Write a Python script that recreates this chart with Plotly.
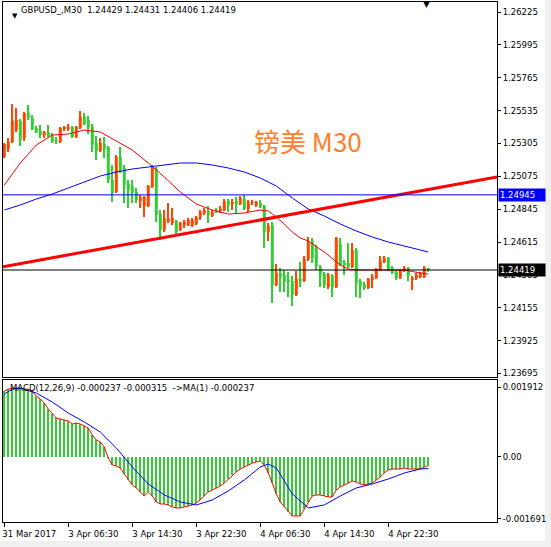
import plotly.graph_objects as go

# --- data (GBPUSD M30) ---
TICK_BARS = [0, 16, 32, 48, 64, 80, 96]
TICK_TEXT = ["31 Mar 2017", "3 Apr 06:30", "3 Apr 14:30", "3 Apr 22:30",
             "4 Apr 06:30", "4 Apr 14:30", "4 Apr 22:30"]

OPEN = [1.25210, 1.25266, 1.25315, 1.25399, 1.25462, 1.25343, 1.25518, 1.25483, 1.25413, 1.25392,
        1.25364, 1.25385, 1.25364, 1.25322, 1.25315, 1.25406, 1.25406, 1.25420, 1.25350, 1.25413,
        1.25490, 1.25469, 1.25420, 1.25308, 1.25252, 1.25301, 1.25280, 1.25049, 1.24965, 1.25210,
        1.25133, 1.25021, 1.25007, 1.24965, 1.24902, 1.24867, 1.24867, 1.25000, 1.25126, 1.24811,
        1.24699, 1.24762, 1.24748, 1.24762, 1.24699, 1.24734, 1.24734, 1.24727, 1.24741, 1.24790,
        1.24818, 1.24832, 1.24797, 1.24839, 1.24832, 1.24839, 1.24902, 1.24881, 1.24902, 1.24881,
        1.24916, 1.24846, 1.24888, 1.24874, 1.24888, 1.24867, 1.24685, 1.24734, 1.24314, 1.24398,
        1.24384, 1.24349, 1.24342, 1.24244, 1.24356, 1.24342, 1.24496, 1.24622, 1.24580, 1.24440,
        1.24391, 1.24300, 1.24377, 1.24300, 1.24601, 1.24468, 1.24468, 1.24440, 1.24559, 1.24342,
        1.24321, 1.24293, 1.24349, 1.24363, 1.24419, 1.24475, 1.24503, 1.24433, 1.24405, 1.24363,
        1.24412, 1.24433, 1.24349, 1.24363, 1.24370, 1.24370, 1.24429]
HIGH = [1.25308, 1.25343, 1.25581, 1.25553, 1.25476, 1.25525, 1.25574, 1.25504, 1.25427, 1.25434,
        1.25392, 1.25434, 1.25378, 1.25350, 1.25420, 1.25427, 1.25441, 1.25427, 1.25427, 1.25532,
        1.25518, 1.25497, 1.25441, 1.25357, 1.25343, 1.25350, 1.25287, 1.25154, 1.25224, 1.25280,
        1.25154, 1.25049, 1.25049, 1.24993, 1.24944, 1.24937, 1.25014, 1.25154, 1.25140, 1.24839,
        1.24839, 1.24888, 1.24853, 1.24769, 1.24755, 1.24769, 1.24783, 1.24783, 1.24797, 1.24839,
        1.24853, 1.24867, 1.24839, 1.24853, 1.24867, 1.24916, 1.24916, 1.24916, 1.24930, 1.24937,
        1.24944, 1.24909, 1.24909, 1.24902, 1.24909, 1.24874, 1.24748, 1.24755, 1.24461, 1.24433,
        1.24419, 1.24405, 1.24377, 1.24412, 1.24475, 1.24517, 1.24650, 1.24643, 1.24594, 1.24454,
        1.24405, 1.24398, 1.24391, 1.24650, 1.24643, 1.24489, 1.24608, 1.24608, 1.24573, 1.24356,
        1.24335, 1.24363, 1.24391, 1.24433, 1.24517, 1.24517, 1.24510, 1.24447, 1.24419, 1.24426,
        1.24447, 1.24440, 1.24377, 1.24398, 1.24405, 1.24447, 1.24431]
LOW = [1.25203, 1.25245, 1.25308, 1.25385, 1.25287, 1.25322, 1.25469, 1.25399, 1.25378, 1.25343,
       1.25343, 1.25350, 1.25308, 1.25301, 1.25308, 1.25392, 1.25392, 1.25343, 1.25343, 1.25406,
       1.25434, 1.25371, 1.25245, 1.25189, 1.25245, 1.25203, 1.25028, 1.24895, 1.24958, 1.25098,
       1.24888, 1.24853, 1.24888, 1.24888, 1.24853, 1.24790, 1.24860, 1.24993, 1.24755, 1.24629,
       1.24685, 1.24748, 1.24734, 1.24664, 1.24692, 1.24713, 1.24727, 1.24720, 1.24734, 1.24769,
       1.24804, 1.24748, 1.24790, 1.24818, 1.24818, 1.24832, 1.24825, 1.24839, 1.24818, 1.24874,
       1.24839, 1.24825, 1.24874, 1.24860, 1.24853, 1.24573, 1.24622, 1.24188, 1.24307, 1.24265,
       1.24265, 1.24230, 1.24167, 1.24237, 1.24300, 1.24335, 1.24482, 1.24468, 1.24419, 1.24300,
       1.24293, 1.24286, 1.24230, 1.24293, 1.24447, 1.24384, 1.24433, 1.24433, 1.24230, 1.24223,
       1.24279, 1.24286, 1.24293, 1.24356, 1.24412, 1.24468, 1.24412, 1.24391, 1.24349, 1.24356,
       1.24405, 1.24342, 1.24279, 1.24349, 1.24363, 1.24363, 1.24406]
CLOSE = [1.25301, 1.25315, 1.25462, 1.25469, 1.25329, 1.25518, 1.25483, 1.25406, 1.25385, 1.25364,
         1.25385, 1.25357, 1.25315, 1.25315, 1.25413, 1.25420, 1.25420, 1.25350, 1.25420, 1.25490,
         1.25441, 1.25420, 1.25294, 1.25252, 1.25308, 1.25266, 1.25049, 1.24958, 1.25210, 1.25119,
         1.25014, 1.24979, 1.24958, 1.24909, 1.24930, 1.24930, 1.25007, 1.25140, 1.24804, 1.24699,
         1.24783, 1.24776, 1.24783, 1.24685, 1.24748, 1.24755, 1.24769, 1.24769, 1.24790, 1.24825,
         1.24839, 1.24804, 1.24825, 1.24825, 1.24846, 1.24902, 1.24874, 1.24895, 1.24881, 1.24923,
         1.24846, 1.24895, 1.24895, 1.24895, 1.24860, 1.24685, 1.24727, 1.24314, 1.24398, 1.24370,
         1.24335, 1.24335, 1.24244, 1.24356, 1.24342, 1.24496, 1.24608, 1.24503, 1.24447, 1.24384,
         1.24314, 1.24384, 1.24300, 1.24643, 1.24454, 1.24454, 1.24440, 1.24559, 1.24328, 1.24307,
         1.24293, 1.24356, 1.24370, 1.24426, 1.24482, 1.24503, 1.24419, 1.24398, 1.24363, 1.24419,
         1.24433, 1.24377, 1.24363, 1.24384, 1.24391, 1.24433, 1.24419]

RED_MA_BARS = [0, 4, 8, 12, 16, 20, 24, 28, 32, 36, 40, 44, 48, 52, 56, 60, 64, 66, 68, 70,
               72, 74, 76, 80, 84, 86, 88, 92, 96, 100, 104, 106]
RED_MA = [1.25014, 1.25168, 1.25294, 1.25364, 1.25371, 1.25399, 1.25385, 1.25322, 1.25259, 1.25168,
          1.25070, 1.24965, 1.24881, 1.24839, 1.24811, 1.24818, 1.24839, 1.24832, 1.24790, 1.24741,
          1.24685, 1.24643, 1.24622, 1.24545, 1.24454, 1.24426, 1.24419, 1.24419, 1.24419, 1.24419,
          1.24398, 1.24391]
BLUE_MA_BARS = [0, 4, 8, 12, 16, 20, 24, 28, 32, 36, 40, 44, 48, 52, 56, 60, 64, 68, 72, 76,
                80, 84, 88, 92, 96, 100, 104, 106]
BLUE_MA = [1.24839, 1.24874, 1.24916, 1.24951, 1.24993, 1.25035, 1.25077, 1.25105, 1.25126, 1.25140,
           1.25154, 1.25168, 1.25168, 1.25154, 1.25133, 1.25105, 1.25063, 1.25007, 1.24923, 1.24846,
           1.24797, 1.24741, 1.24692, 1.24650, 1.24615, 1.24587, 1.24559, 1.24545]

TREND_BARS = [-0.33, 123.2]
TREND_PRICE = [1.24442, 1.25070]
LEVEL_BLUE = 1.24945
BID = 1.24419

PRICE_TICKS = [1.26225, 1.25995, 1.25765, 1.25535, 1.25305, 1.25075, 1.24845,
               1.24615, 1.24385, 1.24155, 1.23925, 1.23695]

MACD = [0.001802, 0.001856, 0.001884, 0.001884, 0.001884, 0.001856, 0.001856, 0.001802, 0.001665, 0.001583,
        0.001474, 0.001310, 0.001174, 0.001065, 0.001037, 0.001010, 0.000983, 0.000901, 0.000928, 0.000901,
        0.000846, 0.000792, 0.000601, 0.000464, 0.000410, 0.000273, -0.000027, -0.000218, -0.000246, -0.000300,
        -0.000464, -0.000628, -0.000764, -0.000846, -0.000956, -0.001065, -0.000956, -0.001065, -0.001229, -0.001283,
        -0.001283, -0.001310, -0.001365, -0.001392, -0.001392, -0.001365, -0.001338, -0.001310, -0.001256, -0.001174,
        -0.001065, -0.000956, -0.000901, -0.000846, -0.000792, -0.000710, -0.000601, -0.000491, -0.000410, -0.000328,
        -0.000273, -0.000218, -0.000164, -0.000137, -0.000109, -0.000218, -0.000437, -0.000710, -0.001010, -0.001229,
        -0.001365, -0.001502, -0.001611, -0.001611, -0.001611, -0.001420, -0.001229, -0.001065, -0.001037, -0.001037,
        -0.001065, -0.001092, -0.001092, -0.000901, -0.000819, -0.000764, -0.000710, -0.000655, -0.000683, -0.000737,
        -0.000764, -0.000737, -0.000710, -0.000628, -0.000546, -0.000437, -0.000355, -0.000328, -0.000328, -0.000328,
        -0.000300, -0.000328, -0.000328, -0.000328, -0.000328, -0.000273, -0.000237]
SIGNAL_BARS = [0, 2, 4, 8, 12, 16, 20, 24, 28, 32, 36, 40, 44, 48, 52, 56, 60, 64, 66, 68,
               72, 76, 80, 84, 88, 92, 96, 100, 104, 106]
SIGNAL = [0.001720, 0.001856, 0.001884, 0.001747, 0.001502, 0.001201, 0.000956, 0.000683, 0.000246, -0.000273,
          -0.000737, -0.001037, -0.001229, -0.001310, -0.001174, -0.000928, -0.000628, -0.000273, -0.000191, -0.000300,
          -0.001010, -0.001392, -0.001310, -0.001065, -0.000846, -0.000737, -0.000601, -0.000437, -0.000328, -0.000315]
MACD_TICKS = [0.001912, 0.0, -0.001691]
MACD_TICK_TEXT = ["0.001912", "0.00", "-0.001691"]

UP = "#FF4500"
DOWN = "#32CD32"
FONT = "DejaVu Sans"

bars = list(range(len(CLOSE)))
colors = [UP if c >= o else DOWN for o, c in zip(OPEN, CLOSE)]
body_base = [min(o, c) for o, c in zip(OPEN, CLOSE)]
body_h = [max(abs(c - o), 0.00007) for o, c in zip(OPEN, CLOSE)]

fig = go.Figure()
fig.add_trace(go.Bar(x=bars, y=[h - l for h, l in zip(HIGH, LOW)], base=LOW, width=0.25,
                     marker=dict(color=colors, line=dict(width=0))))
fig.add_trace(go.Bar(x=bars, y=body_h, base=body_base, width=0.75,
                     marker=dict(color=colors, line=dict(width=0))))
fig.add_trace(go.Scatter(x=RED_MA_BARS, y=RED_MA, mode="lines", line=dict(color="#FF0000", width=1)))
fig.add_trace(go.Scatter(x=BLUE_MA_BARS, y=BLUE_MA, mode="lines", line=dict(color="#0000FF", width=1)))
fig.add_trace(go.Scatter(x=TREND_BARS, y=TREND_PRICE, mode="lines", line=dict(color="#FF0000", width=3)))

# MACD subwindow
fig.add_trace(go.Bar(x=bars, y=MACD, width=0.25, marker=dict(color=DOWN, line=dict(width=0)),
                     xaxis="x2", yaxis="y2"))
fig.add_trace(go.Scatter(x=bars, y=MACD, mode="lines", line=dict(color="#FF0000", width=1),
                         xaxis="x2", yaxis="y2"))
fig.add_trace(go.Scatter(x=SIGNAL_BARS, y=SIGNAL, mode="lines", line=dict(color="#0000FF", width=1),
                         xaxis="x2", yaxis="y2"))

fig.add_hline(y=LEVEL_BLUE, line=dict(color="#0000FF", width=1))
fig.add_hline(y=BID, line=dict(color="#000000", width=1))

axis_common = dict(showgrid=False, zeroline=False, showline=True, mirror=True,
                   linecolor="black", linewidth=1, tickcolor="black",
                   tickfont=dict(family=FONT, size=8.5, color="black"))
xr = [-0.325, 123.175]

fig.update_layout(
    width=551, height=547, margin=dict(l=3, r=54, t=2, b=25),
    paper_bgcolor="white", plot_bgcolor="white", showlegend=False,
    barmode="overlay", hovermode=False,
    xaxis=dict(domain=[0, 1], range=xr, anchor="y", showticklabels=False, ticks="", **axis_common),
    yaxis=dict(domain=[0.27885, 1], range=[1.23670, 1.26295], side="right", anchor="x",
               tickvals=PRICE_TICKS, ticktext=[f"{v:.5f}" for v in PRICE_TICKS],
               ticks="outside", ticklen=3, **axis_common),
    xaxis2=dict(domain=[0, 1], range=xr, anchor="y2", matches="x", tickvals=TICK_BARS,
                ticktext=TICK_TEXT, ticks="outside", ticklen=4, ticklabelshift=25, **axis_common),
    yaxis2=dict(domain=[0, 0.27308], range=[-0.001776, 0.002104], side="right", anchor="x2",
                tickvals=MACD_TICKS, ticktext=MACD_TICK_TEXT, ticks="outside", ticklen=3,
                **axis_common),
)

ann_font = dict(family=FONT, size=8.5, color="black")
fig.add_annotation(text="▼", xref="paper", yref="paper", x=0.0142, y=0.9846,
                   showarrow=False, font=dict(family=FONT, size=7, color="black"))
fig.add_annotation(text=f"GBPUSD_,M30&nbsp;&nbsp;{OPEN[-1]:.5f} {HIGH[-1]:.5f} {LOW[-1]:.5f} {CLOSE[-1]:.5f}",
                   xref="paper", yref="paper", x=0.0324, y=0.9846, xanchor="left", yanchor="middle",
                   showarrow=False, font=ann_font)
fig.add_annotation(text="▼", xref="paper", yref="paper", x=0.8684, y=0.9962, yanchor="middle",
                   showarrow=False, font=dict(family=FONT, size=9, color="black"))
fig.add_annotation(text=f"MACD(12,26,9) {MACD[-1]:.6f} {SIGNAL[-1]:.6f}&nbsp;&nbsp;->MA(1) {MACD[-1]:.6f}",
                   xref="paper", yref="paper", x=0.0101, y=0.2577, xanchor="left", yanchor="middle",
                   showarrow=False, font=ann_font)
fig.add_annotation(text="镑美 M30", xref="paper", yref="paper", x=0.6174, y=0.7731,
                   showarrow=False, font=dict(family="Noto Sans CJK SC", size=26, color="#FF7F2A"))
for level, bg in [(LEVEL_BLUE, "#0000FF"), (BID, "#000000")]:
    fig.add_annotation(text=f"{level:.5f}", xref="paper", yref="y", x=1, y=level, xanchor="left",
                       xshift=1, yanchor="middle", showarrow=False, bgcolor=bg, borderpad=1,
                       width=44, align="left", font=dict(family=FONT, size=8.5, color="white"))

# window frame strips (right and bottom)
fig.add_shape(type="rect", xref="paper", yref="paper", x0=1.0972, x1=1.12, y0=-0.06, y1=1.01,
              fillcolor="#F0F0F0", line=dict(width=0), layer="below")
fig.add_shape(type="rect", xref="paper", yref="paper", x0=-0.01, x1=1.12, y0=-0.06, y1=-0.0365,
              fillcolor="#F0F0F0", line=dict(width=0), layer="below")

# the page's default 8px body margin would shift the whole chart
fig.write_html("out.html", config={"displayModeBar": False},
               post_script="document.body.style.margin='0';")
